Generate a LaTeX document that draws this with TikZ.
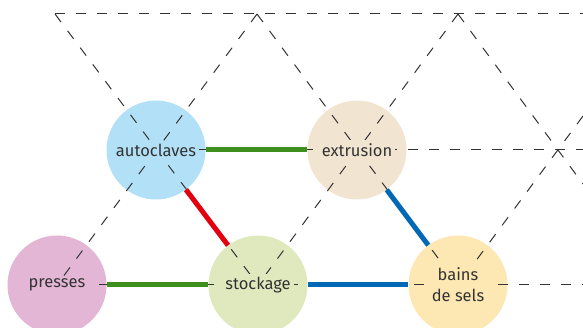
\documentclass[tikz,border=0pt]{standalone}
\usepackage{fontspec}
\setmainfont{Fira Sans}
\definecolor{autoc}{HTML}{B2E0F6}
\definecolor{extrc}{HTML}{F1E4D1}
\definecolor{presc}{HTML}{E3B6D5}
\definecolor{stocc}{HTML}{DFE9BD}
\definecolor{bainc}{HTML}{FDE7B3}
\definecolor{txt}{HTML}{333333}
\definecolor{lgreen}{HTML}{3F8F1E}
\definecolor{lred}{HTML}{E3000F}
\definecolor{lblue}{HTML}{0068B4}
\begin{document}
\begin{tikzpicture}[x=1pt,y=-1pt,
    station/.style={circle,minimum size=99pt,inner sep=0pt},
    tag/.style={text=txt,inner sep=3pt,align=center,font=\fontsize{16.5}{21}\selectfont},
    grid/.style={draw=txt,line width=1pt,dash pattern=on 10pt off 11pt},
    link/.style={line width=5pt}]
  \useasboundingbox (0,0) rectangle (583,328);
  % postes
  \node[station,fill=autoc] (auto) at (156,150) {};
  \node[station,fill=extrc] (extr) at (357,150) {};
  \node[station,fill=presc] (pres) at (57,285) {};
  \node[station,fill=stocc] (stock) at (258,285) {};
  \node[station,fill=bainc] (bains) at (458,285) {};
  % reseau en pointilles
  \coordinate (t1) at (55,14);
  \coordinate (t2) at (257,14);
  \coordinate (t3) at (458,14);
  \coordinate (r0) at (583,14);
  \coordinate (r1) at (583,150);
  \coordinate (r2) at (583,285);
  \coordinate (r3) at (583,184);
  \coordinate (r4) at (583,116);
  \draw[grid] (t1) -- (r0);
  \draw[grid] (auto.center) -- (r1);
  \draw[grid] (pres.center) -- (r2);
  \draw[grid] (t1) -- (stock.center);
  \draw[grid] (t2) -- (pres.center);
  \draw[grid] (t2) -- (bains.center);
  \draw[grid] (t3) -- (stock.center);
  \draw[grid] (t3) -- (r3);
  \draw[grid] (r4) -- (bains.center);
  % liaisons
  \draw[link,lgreen] (auto) -- (extr);
  \draw[link,lred] (auto) -- (stock);
  \draw[link,lgreen] (pres) -- (stock);
  \draw[link,lblue] (extr) -- (bains);
  \draw[link,lblue] (stock) -- (bains);
  % noms
  \node[tag,fill=autoc] (auto-t) at (auto) {autoclaves};
  \node[tag,fill=extrc] (extr-t) at (extr) {extrusion};
  \node[tag,fill=presc] (pres-t) at (pres) {presses};
  \node[tag,fill=stocc] (stock-t) at (stock) {stockage};
  \node[tag,fill=bainc] (bains-t) at (bains) {bains\\de sels};
\end{tikzpicture}
\end{document}
